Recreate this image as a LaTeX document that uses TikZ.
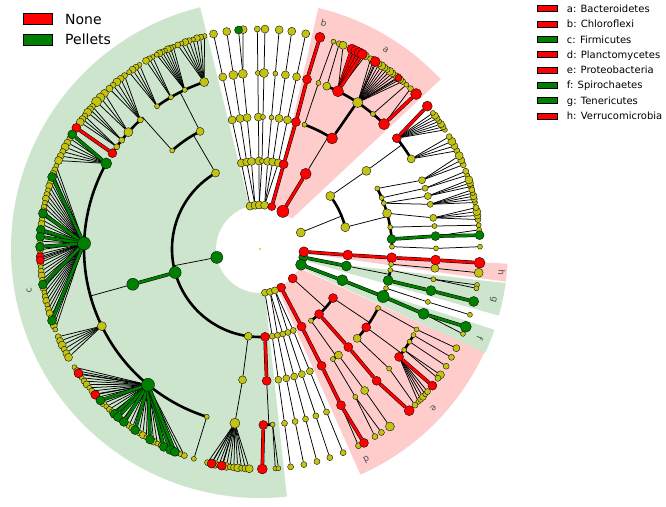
\documentclass[tikz,border=0pt]{standalone}
\usepackage{fontspec}
\usepackage{etoolbox}
\setmainfont{DejaVu Sans}
\pgfdeclarelayer{sect}
\pgfdeclarelayer{edges}
\pgfsetlayers{sect,edges,main}
\definecolor{ycol}{RGB}{195,195,20}
\definecolor{gcol}{RGB}{0,128,0}
\tikzset{
  nd/.style={circle,draw=black,line width=0.35pt,inner sep=0pt},
  tl/.style={line width=0.75pt,black},
  tk/.style={line width=2.6pt,black},
  cl/.style={draw=black,line width=0.5pt,double=#1,double distance=2.6pt},
  lett/.style={font=\fontsize{9}{9}\selectfont,inner sep=0pt,text=black!70},
  lbox/.style={draw=black,line width=0.9pt},
  gsec/.style={fill=gcol,fill opacity=0.2},
  rsec/.style={fill=red,fill opacity=0.2},
}
\def\edgelist{}
\newcommand\Nd[5]{\node[nd,fill=#4,minimum size=#5pt] (#1) at (#2:#3pt) {};}
\newcommand\Edg[2]{\xappto\edgelist{\noexpand\draw[tl] (#1) -- (#2);}}
\newcommand\EdgC[3]{\xappto\edgelist{\noexpand\draw[cl=#3] (#1) -- (#2);}}
\newcommand\EdgK[3]{\xappto\edgelist{\noexpand\draw[tk] (#1) -- (#2:#3pt);}}
\newcommand\RadL[3]{\xappto\edgelist{\noexpand\draw[tl] (#1) -- (#2:#3pt);}}
\newcommand\ArcT[3]{\xappto\edgelist{\noexpand\draw[tk] (#1:#3pt) arc[start angle=#1,end angle=#2,radius=#3pt];}}
\newcommand\FanL[6]{%
  \foreach \k in {0,...,#5}{%
    \pgfmathsetmacro\fanang{#3+\k*#4}%
    \pgfmathsetmacro\fansz{#6+mod(\k*7,3)}%
    \node[nd,fill=ycol,minimum size=\fansz pt] (#2-\k) at (\fanang:220pt) {};
    \Edg{#1}{#2-\k}
  }}
\newcommand\ColL[5]{%
  \node[nd,fill=#4,minimum size=#5pt] (#1) at (#3:220pt) {};
  \EdgC{#2}{#1}{#4}}
\newcommand\Lf[5]{%
  \node[nd,fill=#4,minimum size=#5pt] (#1) at (#3:220pt) {};
  \Edg{#2}{#1}}
\begin{document}
\begin{tikzpicture}[x=1pt,y=1pt]
\useasboundingbox (0,0) rectangle (666,506);
\begin{scope}[shift={(260,257)}]
% ---------------- sectors ----------------
\begin{pgfonlayer}{sect}
\fill[white] (-260,-257) rectangle (406,249);
\fill[gsec] (103.9:249pt) arc[start angle=103.9,end angle=276.2,radius=249pt] -- (276.2:44pt) arc[start angle=276.2,end angle=103.9,radius=44pt] -- cycle;
\fill[rsec] (13,42) -- (76.4:248pt) arc[start angle=76.4,end angle=72.4,radius=248pt] -- (32,30.5) -- cycle;
\fill[rsec] (32,30.5) -- (72.4:248pt) arc[start angle=72.4,end angle=43.2,radius=248pt] -- cycle;
\fill[rsec] (43.6,-4) -- (-3.4:248pt) arc[start angle=-3.4,end angle=-7.6,radius=248pt] -- cycle;
\fill[gsec] (42,-11) -- (-7.9:248pt) arc[start angle=-7.9,end angle=-15.6,radius=248pt] -- cycle;
\fill[gsec] (40,-18.5) -- (-19:248pt) arc[start angle=-19,end angle=-24.8,radius=248pt] -- cycle;
\fill[rsec] (40,-19.5) -- (-24.8:247pt) arc[start angle=-24.8,end angle=-60.1,radius=247pt] -- (22,-38) -- cycle;
\fill[rsec] (22,-38) -- (-60.1:247pt) arc[start angle=-60.1,end angle=-66,radius=247pt] -- (17.9,-40.2) -- cycle;
\end{pgfonlayer}
\node[circle,fill=ycol,inner sep=0pt,minimum size=2pt] (root) at (0,0) {};
% ---------------- top white clades ----------------
\Nd{tp1}{103}{44}{ycol}{8}
\Nd{tp2}{96.5}{44}{ycol}{8}
\Nd{tp3}{91}{44}{ycol}{8}
\Nd{tp4}{84}{44}{ycol}{8}
\Nd{tl3b}{94.4}{220}{ycol}{8}
\foreach \i/\a/\p/\sa/\sb/\sc/\sd/\cc in {1/102.2/tp1/8/8/8/8/ycol,2/98.7/tp2/8/8/9/8/ycol,3/95.6/tp2/8/8/9/8/gcol,4/90.7/tp3/8/8/5/6/ycol,5/88.7/tp3/5/5/9/8/ycol,6/85/tp4/8/5/5/8/ycol,7/81.7/tp4/8/8/8/8/ycol,8/78/tp4/8/8/8/8/ycol}{
  \Nd{tc\i}{\a}{88}{ycol}{\sa}
  \Nd{to\i}{\a}{132}{ycol}{\sb}
  \Nd{tf\i}{\a}{176}{ycol}{\sc}
  \Nd{tl\i}{\a}{220}{\cc}{\sd}
  \Edg{\p}{tc\i}\Edg{tc\i}{to\i}\Edg{to\i}{tf\i}\Edg{tf\i}{tl\i}
}
\Edg{tf3}{tl3b}
% ---------------- b : Chloroflexi ----------------
\Nd{b1}{74.5}{44}{red}{8}
\Nd{b2}{74.4}{88}{red}{9}
\Nd{b3}{74.2}{132}{red}{9}
\Nd{b4}{74.5}{176}{red}{9}
\Nd{b5}{74.2}{220}{red}{10}
\EdgC{b1}{b2}{red}\EdgC{b2}{b3}{red}\EdgC{b3}{b4}{red}\EdgC{b4}{b5}{red}
% ---------------- a : Bacteroidetes ----------------
\Nd{a1}{58.7}{44}{red}{12}
\Nd{a2}{58.7}{88}{red}{11}
\EdgC{a1}{a2}{red}
\RadL{a2}{58.7}{132}
\ArcT{56.9}{70.3}{132}
\Nd{a3}{56.9}{132}{red}{11}
\Nd{a3y}{70.3}{132}{ycol}{5}
\Nd{a4y}{70.6}{176}{ycol}{5}
\Edg{a3y}{a4y}
\Lf{a5y}{a4y}{70.5}{ycol}{5}
\EdgK{a3}{56.5}{176}
\ArcT{45.2}{67.7}{176}
\Nd{af1}{67.7}{176}{ycol}{8}
\Nd{af2}{63.7}{176}{red}{11}
\Nd{af3}{56.3}{176}{ycol}{10}
\Nd{af4}{50.1}{176}{ycol}{5}
\Nd{af5}{45.2}{176}{red}{11}
\Lf{al1}{af1}{68.9}{ycol}{6}
\Lf{al2a}{af2}{67.8}{ycol}{8}
\Lf{al2b}{af2}{61.4}{ycol}{8}
\ColL{al2c}{af2}{65.3}{red}{10}
\ColL{al2d}{af2}{64.2}{red}{10}
\ColL{al2e}{af2}{63.2}{red}{10}
\ColL{al2f}{af2}{62.3}{red}{10}
\FanL{af3}{al3}{49.6}{0.85}{12}{6}
\Lf{al3r}{af3}{58.4}{red}{10}
\Lf{al3s}{af3}{51}{red}{7}
\Lf{al4}{af4}{48.3}{ycol}{5}
\Lf{al5y}{af5}{46.8}{ycol}{6}
\ColL{al5}{af5}{44.8}{red}{11}
% ---------------- right white clade ----------------
\Nd{r1}{22}{44}{ycol}{9}
\RadL{r1}{22}{88}
\ArcT{14.3}{37}{88}
\Nd{rc1}{37}{88}{ycol}{9}
\Nd{rc2}{14.3}{88}{ycol}{9}
\Nd{ro1}{36.3}{132}{ycol}{9}
\Edg{rc1}{ro1}
\RadL{ro1}{36.3}{176}
\ArcT{30.8}{39}{176}
\Nd{rf1}{39}{176}{red}{9}
\Nd{rf2}{30.8}{176}{ycol}{8}
\FanL{rf1}{rl1}{32.8}{0.9}{6}{5}
\ColL{rl1r}{rf1}{40.5}{red}{10}
\FanL{rf2}{rl2}{26.5}{1.4}{3}{6}
\RadL{rc2}{14.3}{132}
\ArcT{1}{27.3}{132}
\Nd{ro2}{27.3}{132}{ycol}{5}
\Nd{ro3}{22.8}{132}{ycol}{5}
\Nd{ro4}{20.3}{132}{ycol}{5}
\Nd{ro5}{15.7}{132}{ycol}{9}
\Nd{ro6}{9.5}{132}{ycol}{5}
\Nd{ro7}{4.3}{132}{gcol}{9}
\Nd{ro8}{1}{132}{ycol}{5}
\Nd{rf3}{23}{176}{ycol}{7}\Edg{ro2}{rf3}
\Nd{rf4}{20.2}{176}{ycol}{6}\Edg{ro3}{rf4}
\Nd{rf5}{17.5}{176}{ycol}{7}\Edg{ro4}{rf5}
\Nd{rf6}{14.7}{176}{ycol}{6}\Edg{ro4}{rf6}
\Nd{rf7}{10.2}{176}{ycol}{7}\Edg{ro5}{rf7}
\Nd{rf8}{7.5}{176}{ycol}{5}\Edg{ro6}{rf8}
\Nd{rf9}{4.2}{176}{gcol}{9}\EdgC{ro7}{rf9}{gcol}
\Nd{rf10}{0.2}{176}{ycol}{5}\Edg{ro8}{rf10}
\FanL{rf3}{rl3}{22.5}{1.3}{2}{6}
\FanL{rf4}{rl4}{19.6}{1.1}{1}{5}
\FanL{rf5}{rl5}{16.5}{0.9}{2}{6}
\FanL{rf6}{rl6}{12.2}{0.85}{4}{5}
\FanL{rf7}{rl7}{7.7}{1.05}{3}{6}
\Lf{rl8}{rf8}{6.2}{ycol}{5}
\Lf{rl9y}{rf9}{5}{ycol}{5}
\ColL{rl9}{rf9}{3.6}{gcol}{9}
\Lf{rl10}{rf10}{0.6}{ycol}{5}
% ---------------- g : Tenericutes ----------------
\Nd{g1}{-10.9}{44}{gcol}{9}
\Nd{g2}{-11.1}{88}{gcol}{10}
\EdgC{g1}{g2}{gcol}
\RadL{g2}{-11.1}{132}
\ArcT{-9.2}{-13.8}{132}
\Nd{gy3}{-9.2}{132}{ycol}{5}
\Nd{gy4}{-9.9}{176}{ycol}{5}
\Edg{gy3}{gy4}
\Lf{gy5a}{gy4}{-9.4}{ycol}{5}
\Lf{gy5b}{gy4}{-10.3}{ycol}{5}
\Nd{g3}{-13.8}{132}{gcol}{10}
\Nd{g4}{-13.7}{176}{gcol}{10}
\EdgC{g3}{g4}{gcol}
\ColL{g5}{g4}{-13.8}{gcol}{10}
% ---------------- f : Spirochaetes ----------------
\Nd{f1}{-21}{44}{gcol}{11}
\Nd{f2}{-20.8}{88}{gcol}{11}
\Nd{f3}{-21.1}{132}{gcol}{12}
\Nd{f4}{-21.6}{176}{gcol}{11}
\EdgC{f1}{f2}{gcol}\EdgC{f2}{f3}{gcol}\EdgC{f3}{f4}{gcol}
\Lf{fy6}{f4}{-22.7}{ycol}{5}
\ColL{f5}{f4}{-20.7}{gcol}{11}
\ArcT{-17.3}{-21.1}{132}
\Nd{fy3}{-17.3}{132}{ycol}{5}
\Nd{fy4}{-17.5}{176}{ycol}{5}
\Edg{fy3}{fy4}
\Lf{fy5}{fy4}{-17.4}{ycol}{5}
% ---------------- h : Verrucomicrobia ----------------
\Nd{h1}{-3.6}{44}{red}{10}
\Nd{h2}{-3.9}{88}{red}{10}
\Nd{h3}{-3.8}{132}{red}{10}
\Nd{h4}{-3.6}{176}{red}{10}
\EdgC{h1}{h2}{red}\EdgC{h2}{h3}{red}\EdgC{h3}{h4}{red}
\ColL{h5}{h4}{-3.6}{red}{11}
\ArcT{-3.8}{-6.6}{132}
\Nd{hy3}{-6.6}{132}{ycol}{5}
\Nd{hy4}{-6.3}{176}{ycol}{8}
\Edg{hy3}{hy4}
\Lf{hy5}{hy4}{-6.2}{ycol}{9}
% ---------------- e : Proteobacteria ----------------
\Nd{e1}{-42}{44}{red}{9}
\RadL{e1}{-42}{88}
\ArcT{-33.9}{-54.6}{88}
\Nd{ec1}{-33.9}{88}{red}{9}
\Nd{ec2}{-47.8}{88}{red}{9}
\Nd{ec3}{-54.6}{88}{ycol}{5}
\RadL{ec1}{-33.9}{132}
\ArcT{-26.6}{-42.6}{132}
\Nd{eo1}{-26.6}{132}{ycol}{5}
\Nd{eo2}{-36.4}{132}{red}{9}
\Nd{eo3}{-42.6}{132}{ycol}{8}
\Nd{ef1}{-27.2}{176}{ycol}{5}\Edg{eo1}{ef1}
\Lf{el1}{ef1}{-26.8}{ycol}{7}
\RadL{eo2}{-36.4}{176}
\ArcT{-29.3}{-37.8}{176}
\Nd{ef2}{-29.3}{176}{ycol}{5}\Lf{el2}{ef2}{-29.5}{ycol}{6}
\Nd{ef3}{-31.8}{176}{ycol}{5}\Lf{el3}{ef3}{-32.2}{ycol}{6}
\Nd{ef4}{-35}{176}{ycol}{5}\Lf{el4a}{ef4}{-34.9}{ycol}{8}\Lf{el4b}{ef4}{-36}{ycol}{6}
\Nd{ef5}{-37.8}{176}{red}{9}
\FanL{ef5}{el5}{-44}{0.9}{4}{5}
\ColL{el5r}{ef5}{-38.4}{red}{9}
\Nd{ef6}{-42.8}{176}{ycol}{5}\Edg{eo3}{ef6}
\Lf{el6}{ef6}{-45.2}{ycol}{6}
\Nd{eo4}{-48}{132}{red}{9}
\Nd{ef7}{-48.5}{176}{red}{9}
\EdgC{ec2}{eo4}{red}\EdgC{eo4}{ef7}{red}
\ColL{el7}{ef7}{-47.3}{red}{10}
\RadL{ec3}{-54.6}{132}
\ArcT{-53.5}{-56.5}{132}
\Nd{eo5}{-53.5}{132}{ycol}{8}
\Nd{eo6}{-56.5}{132}{ycol}{5}
\Nd{ef8}{-53.5}{176}{ycol}{8}\Edg{eo5}{ef8}
\Lf{el8}{ef8}{-53.8}{ycol}{9}
\Nd{ef9}{-57.2}{176}{ycol}{5}\Edg{eo6}{ef9}
\Lf{el9a}{ef9}{-56.5}{ycol}{6}
\Lf{el9b}{ef9}{-58.5}{ycol}{6}
% ---------------- d : Planctomycetes ----------------
\Nd{d1}{-61.3}{44}{red}{9}
\Nd{d2}{-61.8}{88}{red}{9}
\Nd{d3}{-62.2}{132}{red}{9}
\Nd{d4}{-62.6}{176}{red}{9}
\EdgC{d1}{d2}{red}\EdgC{d2}{d3}{red}\EdgC{d3}{d4}{red}
\Lf{d5y}{d4}{-63.4}{ycol}{6}
\ColL{d5}{d4}{-61.8}{red}{9}
% ---------------- lower white clades ----------------
\Nd{wp1}{-83.5}{44}{ycol}{7}
\Nd{wp2}{-76.8}{44}{ycol}{7}
\Nd{wp3}{-70.2}{44}{ycol}{7}
\foreach \i/\a/\p in {1/-82/wp1,2/-78.5/wp2,3/-75/wp2,4/-71.5/wp3,5/-67.8/wp3}{
  \Nd{wc\i}{\a}{88}{ycol}{6}
  \Nd{wo\i}{\a}{132}{ycol}{7}
  \Nd{wf\i}{\a}{176}{ycol}{6}
  \Nd{wl\i}{\a}{220}{ycol}{6}
  \Edg{\p}{wc\i}\Edg{wc\i}{wo\i}\Edg{wo\i}{wf\i}\Edg{wf\i}{wl\i}
}
% ---------------- c : Firmicutes ----------------
\Nd{c1}{191}{44}{gcol}{12}
\RadL{c1}{191}{88}
\ArcT{120.3}{273.3}{88}
\Nd{cc1}{120.3}{88}{ycol}{8}
\Nd{cc2}{195.5}{88}{gcol}{12}
\Nd{cc3}{262.3}{88}{ycol}{8}
\Nd{cc4}{273.3}{88}{red}{9}
\RadL{cc1}{120.3}{132}
\ArcT{117}{131.7}{132}
\Nd{co1}{117}{132}{ycol}{8}
\Nd{co2}{131.7}{132}{ycol}{5}
\RadL{co1}{117}{176}
\ArcT{108.5}{125.8}{176}
\Nd{cf1}{108.5}{176}{ycol}{9}
\Nd{cf2}{115.3}{176}{ycol}{5}
\Nd{cf3}{120.4}{176}{ycol}{5}
\Nd{cf4}{125.8}{176}{ycol}{5}
\FanL{cf1}{cl1}{104.6}{1.05}{7}{5}
\FanL{cf2}{cl2}{113.2}{0.8}{6}{5}
\FanL{cf3}{cl3}{119.2}{1.0}{2}{5}
\FanL{cf4}{cl4}{123.2}{1.1}{3}{5}
\RadL{co2}{131.7}{176}
\ArcT{131.7}{147}{176}
\Nd{cf5}{132.8}{176}{ycol}{6}
\Nd{cf6}{138.4}{176}{ycol}{9}
\Nd{cf7}{141.8}{176}{ycol}{6}
\Nd{cf8}{144.5}{176}{ycol}{6}
\Nd{cf9}{147}{176}{red}{9}
\FanL{cf5}{cl5}{128}{1.3}{4}{6}
\FanL{cf6}{cl6}{135}{1.5}{2}{8}
\FanL{cf7}{cl7}{139.6}{1.0}{2}{6}
\FanL{cf8}{cl8}{142.8}{1.0}{2}{6}
\ColL{cl9}{cf9}{146.6}{red}{9}
\Nd{co3}{195.5}{132}{gcol}{12}
\EdgC{cc2}{co3}{gcol}
\RadL{co3}{195.5}{176}
\ArcT{150.9}{252.4}{176}
\Nd{cF1}{150.9}{176}{gcol}{11}
\Nd{cF2}{178.2}{176}{gcol}{13}
\Nd{cF3}{206}{176}{ycol}{9}
\Nd{cF4}{230.5}{176}{gcol}{13}
\Nd{cF5}{252.4}{176}{ycol}{5}
\FanL{cF1}{cL1}{149.8}{1.3}{5}{6}
\ColL{cg1}{cF1}{148.6}{gcol}{9}
\FanL{cF2}{cL2}{157.8}{1.12}{39}{5}
\foreach \a [count=\i] in {182,182.9}{\Lf{cr2\i}{cF2}{\a}{red}{8}}
\foreach \a [count=\i] in {160.9,170.7,175,176.8,179.4,189.3,199}{\ColL{cg2\i}{cF2}{\a}{gcol}{9}}
\FanL{cF3}{cL3}{203.5}{1.2}{5}{6}
\FanL{cF4}{cL4}{212.5}{1.1}{34}{5}
\foreach \a [count=\i] in {214.4,221.5}{\Lf{cr4\i}{cF4}{\a}{red}{9}}
\foreach \a [count=\i] in {223.5,228.6,229.8,231.8,235.4,240,244.1,245.9,247.2}{\ColL{cg4\i}{cF4}{\a}{gcol}{9}}
\Lf{cl5x}{cF5}{252.5}{ycol}{5}
\Nd{co4}{262.4}{132}{ycol}{8}
\Nd{cf10}{261.8}{176}{ycol}{10}
\Edg{cc3}{co4}\Edg{co4}{cf10}
\FanL{cf10}{cl10}{256.2}{1.0}{11}{6}
\Lf{cr10a}{cf10}{257.3}{red}{9}
\Lf{cr10b}{cf10}{260}{red}{9}
\Nd{co5}{272.9}{132}{red}{9}
\EdgC{cc4}{co5}{red}
\RadL{co5}{272.9}{176}
\ArcT{271.1}{274.1}{176}
\Nd{cf11}{271.1}{176}{red}{9}
\Nd{cf12}{274.1}{176}{ycol}{5}
\ColL{cl11}{cf11}{270.6}{red}{10}
\Lf{cl12a}{cf12}{274}{ycol}{5}
\Lf{cl12b}{cf12}{274.8}{ycol}{5}
% ---------------- all connectors, behind the nodes ----------------
\begin{pgfonlayer}{edges}
\edgelist
\end{pgfonlayer}
% ---------------- sector letters ----------------
\node[lett,rotate=-32.3] (la) at (57.7:235.5pt) {a};
\node[lett,rotate=-15.8] (lb) at (74.2:234.6pt) {b};
\node[lett,rotate=100.3] (lc) at (190.3:234.5pt) {c};
\node[lett,rotate=-153.2] (ld) at (-63.2:236.4pt) {d};
\node[lett,rotate=-132.6] (le) at (-42.6:235.4pt) {e};
\node[lett,rotate=-112] (lf) at (-22.1:237.4pt) {f};
\node[lett,rotate=-102.3] (lgg) at (-12.3:238.8pt) {g};
\node[lett,rotate=-95.6] (lh) at (-5.6:242.8pt) {h};
\end{scope}
% ---------------- legends ----------------
\draw[lbox,fill=red] (23.3,482) rectangle (52.7,492.7);
\draw[lbox,fill=gcol] (23.3,461) rectangle (52.7,471.5);
\node[anchor=base west,inner sep=0pt,font=\fontsize{14}{14}\selectfont] (lgn) at (65,481.6) {None};
\node[anchor=base west,inner sep=0pt,font=\fontsize{14}{14}\selectfont] (lgp) at (65,461.6) {Pellets};
\foreach \t/\c [count=\i from 0] in {a: Bacteroidetes/red,b: Chloroflexi/red,c: Firmicutes/gcol,d: Planctomycetes/red,e: Proteobacteria/red,f: Spirochaetes/gcol,g: Tenericutes/gcol,h: Verrucomicrobia/red}{
  \pgfmathsetmacro\yy{497.3-15.33*\i}
  \draw[lbox,line width=0.8pt,fill=\c] (537.3,\yy-3) rectangle (557.3,\yy+3);
  \node[anchor=base west,inner sep=0pt,font=\fontsize{10}{10}\selectfont] (lg\i) at (566.7,\yy-3.65) {\t};
}
\end{tikzpicture}
\end{document}
